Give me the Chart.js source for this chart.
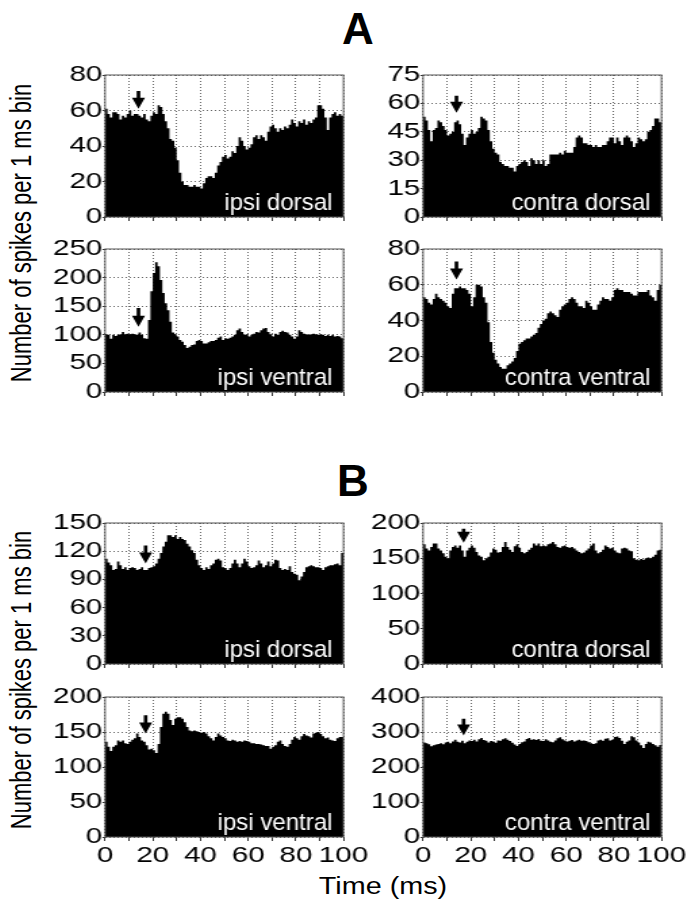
<!DOCTYPE html>
<html>
<head>
<meta charset="utf-8">
<script src="https://cdn.jsdelivr.net/npm/chart.js@4.4.1/dist/chart.umd.min.js"></script>
<style>
  body { margin: 0; background: #fff; }
  #fig { position: relative; width: 697px; height: 908px; overflow: hidden;
         font-family: "Liberation Sans", Arial, sans-serif; color: #000; }
  #fig canvas { position: absolute; }
  .txt { position: absolute; white-space: nowrap; line-height: 1; }
</style>
</head>
<body>
<div id="fig">
  <div class="txt" style="left:358px; top:29px; font-size:44px; font-weight:bold; transform:translate(-50%,-50%);">A</div>
  <div class="txt" style="left:353px; top:481px; font-size:44px; font-weight:bold; transform:translate(-50%,-50%);">B</div>
  <div class="txt" style="left:22px; top:233px; font-size:22px; transform:translate(-50%,-50%) scaleX(1.35) rotate(-90deg);">Number of spikes per 1 ms bin</div>
  <div class="txt" style="left:22px; top:680px; font-size:22px; transform:translate(-50%,-50%) scaleX(1.35) rotate(-90deg);">Number of spikes per 1 ms bin</div>
  <div class="txt" style="left:383px; top:886px; font-size:23px; transform:translate(-50%,-50%) scaleX(1.25);">Time (ms)</div>
</div>
<script>
// 1 ms bins, counts
const ipsiDorsalA = [
  61, 58, 56, 59, 59, 58, 55, 57, 56, 58,
  60, 57, 58, 58, 57, 56, 58, 55, 54, 57,
  59, 58, 63, 62, 58, 54, 50, 44, 43, 39,
  32, 25, 20, 18, 18, 17, 17, 18, 17, 17,
  16, 19, 22, 23, 23, 22, 25, 29, 31, 34,
  35, 33, 34, 37, 36, 40, 45, 43, 40, 38,
  39, 41, 45, 46, 44, 46, 45, 43, 48, 51,
  52, 50, 48, 50, 49, 51, 50, 52, 55, 53,
  51, 54, 53, 55, 52, 54, 53, 55, 56, 63,
  63, 61, 56, 49, 56, 58, 59, 57, 58, 57
];
const contraDorsalA = [
  53, 51, 46, 40, 46, 47, 51, 50, 48, 46,
  43, 44, 45, 50, 51, 49, 44, 38, 42, 44,
  46, 44, 45, 47, 53, 52, 51, 46, 40, 36,
  34, 33, 29, 28, 27, 27, 26, 26, 24, 27,
  28, 29, 30, 29, 27, 31, 30, 28, 30, 28,
  30, 27, 28, 33, 33, 33, 33, 34, 33, 35,
  34, 34, 34, 37, 42, 43, 42, 39, 39, 38,
  38, 37, 38, 37, 37, 38, 38, 40, 42, 42,
  39, 42, 40, 38, 42, 43, 42, 40, 37, 39,
  42, 41, 40, 41, 45, 46, 48, 52, 52, 50
];
const ipsiVentralA = [
  101, 100, 93, 100, 98, 100, 101, 105, 101, 102,
  101, 102, 101, 100, 104, 100, 94, 93, 126, 176,
  208, 227, 220, 196, 173, 155, 143, 123, 104, 101,
  97, 91, 88, 82, 77, 79, 82, 83, 89, 91,
  89, 85, 85, 87, 89, 89, 91, 95, 97, 91,
  94, 93, 95, 97, 100, 108, 111, 105, 100, 101,
  97, 100, 102, 105, 104, 108, 111, 112, 105, 101,
  97, 102, 100, 105, 107, 105, 104, 100, 97, 93,
  97, 108, 105, 102, 101, 100, 101, 102, 101, 100,
  101, 100, 98, 100, 98, 100, 97, 98, 97, 94
];
const contraVentralA = [
  53, 52, 50, 49, 52, 55, 53, 52, 51, 50,
  48, 47, 55, 58, 58, 59, 58, 58, 57, 55,
  48, 53, 60, 60, 59, 53, 50, 39, 28, 22,
  18, 16, 14, 13, 13, 15, 16, 17, 19, 23,
  27, 28, 29, 30, 30, 31, 32, 33, 36, 38,
  40, 41, 44, 45, 44, 43, 42, 46, 48, 49,
  50, 52, 53, 52, 50, 48, 48, 47, 51, 50,
  48, 46, 46, 49, 51, 53, 52, 52, 51, 53,
  57, 58, 57, 57, 56, 56, 56, 55, 54, 54,
  56, 56, 56, 56, 57, 54, 53, 51, 57, 60
];
const ipsiDorsalB = [
  112, 108, 105, 100, 101, 109, 105, 101, 103, 100,
  102, 103, 102, 100, 101, 103, 100, 100, 102, 103,
  104, 107, 112, 118, 125, 130, 137, 137, 135, 137,
  133, 135, 133, 132, 128, 125, 121, 118, 111, 105,
  102, 100, 103, 101, 105, 107, 111, 112, 110, 103,
  102, 100, 102, 107, 111, 107, 103, 107, 112, 109,
  104, 102, 103, 105, 110, 107, 103, 105, 109, 104,
  107, 111, 110, 102, 100, 101, 100, 104, 98, 96,
  95, 89, 93, 98, 103, 104, 105, 104, 103, 103,
  102, 100, 103, 104, 105, 105, 106, 107, 105, 118
];
const contraDorsalB = [
  170, 164, 161, 166, 171, 171, 164, 161, 157, 152,
  150, 161, 166, 168, 165, 168, 161, 152, 161, 165,
  168, 165, 159, 154, 152, 147, 150, 152, 158, 164,
  162, 158, 159, 166, 173, 166, 162, 159, 167, 170,
  165, 159, 157, 159, 162, 165, 171, 168, 171, 167,
  168, 167, 170, 171, 173, 170, 166, 165, 167, 168,
  166, 165, 166, 164, 161, 159, 157, 158, 161, 164,
  168, 171, 161, 157, 159, 162, 168, 166, 164, 165,
  161, 158, 157, 164, 165, 164, 161, 160, 150, 148,
  147, 149, 148, 150, 151, 150, 152, 155, 161, 162
];
const ipsiVentralB = [
  136, 129, 123, 129, 131, 138, 136, 138, 134, 133,
  136, 139, 141, 148, 143, 138, 136, 131, 125, 126,
  124, 120, 133, 157, 176, 179, 176, 167, 160, 169,
  171, 171, 169, 164, 157, 152, 151, 152, 151, 150,
  149, 150, 148, 144, 141, 138, 143, 148, 145, 143,
  141, 138, 137, 139, 138, 136, 137, 136, 138, 137,
  136, 134, 134, 133, 133, 132, 131, 130, 130, 126,
  129, 131, 136, 138, 133, 130, 129, 133, 139, 143,
  141, 139, 144, 147, 145, 144, 142, 148, 149, 150,
  147, 144, 141, 142, 139, 138, 137, 141, 143, 143
];
const contraVentralB = [
  270, 268, 265, 259, 262, 264, 266, 268, 265, 270,
  272, 268, 273, 278, 272, 270, 275, 268, 272, 276,
  274, 278, 273, 279, 283, 277, 275, 270, 274, 273,
  269, 276, 275, 279, 282, 278, 274, 269, 264, 260,
  266, 271, 273, 280, 283, 278, 279, 277, 280, 275,
  274, 279, 276, 272, 271, 276, 282, 285, 279, 276,
  273, 275, 277, 273, 276, 278, 275, 276, 274, 271,
  268, 266, 268, 276, 278, 275, 281, 282, 276, 278,
  286, 287, 283, 275, 266, 272, 276, 288, 285, 276,
  270, 262, 254, 266, 272, 270, 266, 262, 258, 263
];

const panelLabels = ["ipsi dorsal", "contra dorsal", "ipsi ventral", "contra ventral",
                     "ipsi dorsal", "contra dorsal", "ipsi ventral", "contra ventral"];
const yMaxes = [80, 75, 250, 80, 150, 200, 200, 400];
const ySteps = [20, 15, 50, 20, 30, 50, 50, 100];
// stimulus arrows: time (ms), tip and tail heights (counts)
const arrowTimes = [14, 14, 14, 14, 17, 17, 17, 17];
const arrowTips = [61, 55, 114, 63, 107, 172, 148, 290];
const arrowTails = [71, 64, 147, 73, 126, 192, 174, 338];
const timeTicks = [0, 20, 40, 60, 80, 100];

const series = [ipsiDorsalA, contraDorsalA, ipsiVentralA, contraVentralA,
                ipsiDorsalB, contraDorsalB, ipsiVentralB, contraVentralB];

// page layout (css px)
const S = 1.35; // figure text is stretched sideways
const colLeft = [105, 423];
const rowTop = [75, 249, 523, 697];
const rowHeight = [142, 143, 141, 140];
const plotW = 238;
const padLeft = 70, padTop = 14, xAxisH = 34, canvasW = 250;
const FONT = "'Liberation Sans', Arial, sans-serif";

const panelExtras = {
  id: "panelExtras",
  afterDatasetsDraw(chart, args, opts) {
    const { ctx, chartArea: a, scales } = chart;
    ctx.save();
    ctx.strokeStyle = "#555";
    ctx.lineWidth = 1;
    ctx.strokeRect(a.left, a.top, a.right - a.left, a.bottom - a.top);

    const x = scales.x.getPixelForValue(opts.arrowAt);
    const yTip = scales.y.getPixelForValue(opts.arrowTip);
    const yTail = scales.y.getPixelForValue(opts.arrowTail);
    const hw = 6.5 / S, sw = 1.8 / S, hh = 11;
    ctx.fillStyle = "#000";
    ctx.beginPath();
    ctx.moveTo(x - sw, yTail);
    ctx.lineTo(x + sw, yTail);
    ctx.lineTo(x + sw, yTip - hh);
    ctx.lineTo(x + hw, yTip - hh);
    ctx.lineTo(x, yTip);
    ctx.lineTo(x - hw, yTip - hh);
    ctx.lineTo(x - sw, yTip - hh);
    ctx.closePath();
    ctx.fill();

    ctx.translate(a.right - 11 / S, a.bottom - 7);
    ctx.scale(1 / S, 1);
    ctx.font = "24px " + FONT;
    ctx.fillStyle = "#fff";
    ctx.textAlign = "right";
    ctx.textBaseline = "alphabetic";
    ctx.fillText(opts.label, 0, 0);
    ctx.restore();
  }
};

const fig = document.getElementById("fig");

series.forEach((values, i) => {
  const col = i % 2;
  const row = Math.floor(i / 2);
  const showX = row === 3;
  const h = padTop + rowHeight[row] + xAxisH;

  const canvas = document.createElement("canvas");
  canvas.width = canvasW;
  canvas.height = h;
  canvas.style.width = (canvasW * S) + "px";
  canvas.style.height = h + "px";
  canvas.style.left = (colLeft[col] - padLeft) + "px";
  canvas.style.top = (rowTop[row] - padTop) + "px";
  fig.appendChild(canvas);

  // histogram outline: each bin starts at its own ms
  const points = values.map((v, t) => ({ x: t, y: v }));
  points.push({ x: values.length, y: values[values.length - 1] });

  new Chart(canvas, {
    type: "line",
    data: {
      datasets: [
        {
          data: points,
          stepped: "before",
          fill: "origin",
          backgroundColor: "#000",
          borderColor: "#000",
          borderWidth: 0,
          pointRadius: 0,
        },
      ],
    },
    options: {
      responsive: false,
      animation: false,
      devicePixelRatio: 1,
      layout: {
        padding: { top: padTop, left: 0, bottom: 0, right: canvasW - (padLeft + plotW) / S },
      },
      plugins: {
        legend: { display: false },
        tooltip: { enabled: false },
        panelExtras: {
          label: panelLabels[i],
          arrowAt: arrowTimes[i],
          arrowTip: arrowTips[i],
          arrowTail: arrowTails[i],
        },
      },
      scales: {
        x: {
          type: "linear",
          min: 0,
          max: 100,
          ticks: {
            stepSize: 10,
            autoSkip: false,
            maxRotation: 0,
            padding: 2,
            color: "#000",
            font: { family: FONT, size: 22 },
            callback: (v) => (showX && timeTicks.includes(v) ? String(v) : ""),
          },
          grid: { color: "#666", tickColor: "#333", tickLength: 4 },
          border: { display: false, dash: [1, 2] },
          afterFit: (s) => { s.height = xAxisH; },
        },
        y: {
          min: 0,
          max: yMaxes[i],
          ticks: {
            stepSize: ySteps[i],
            autoSkip: false,
            padding: 0,
            color: "#000",
            font: { family: FONT, size: 22 },
          },
          grid: { color: "#666", tickColor: "#333", tickLength: 2 },
          border: { display: false, dash: [1, 2] },
          afterFit: (s) => { s.width = padLeft / S; },
        },
      },
    },
    plugins: [panelExtras],
  });
});
</script>
</body>
</html>
